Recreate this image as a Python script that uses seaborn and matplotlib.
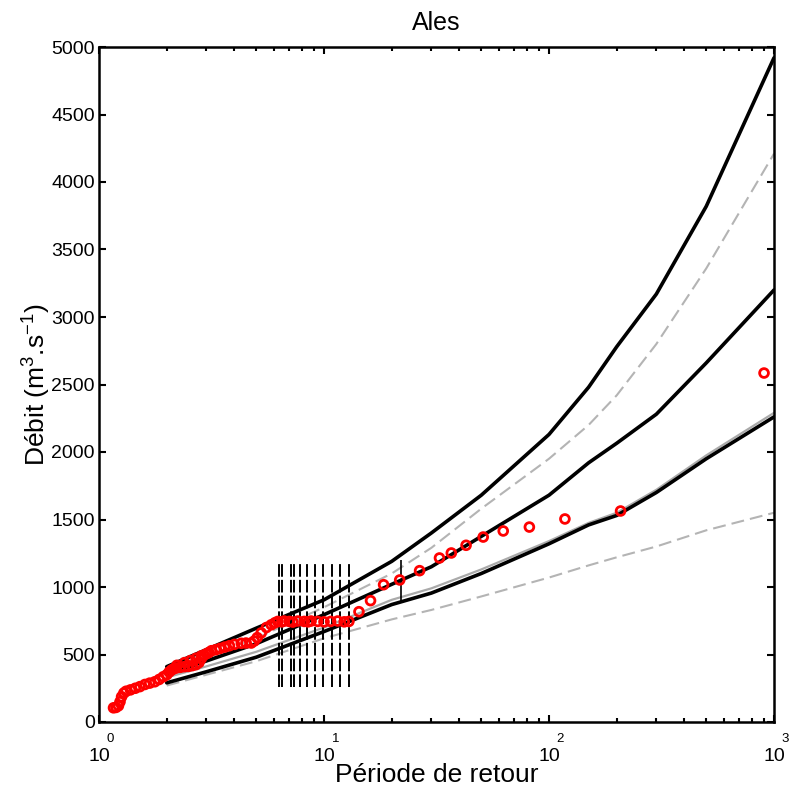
import matplotlib
matplotlib.use("Agg")
import matplotlib.pyplot as plt
import matplotlib.ticker as mticker
import seaborn as sns

# return periods where the fitted curves are read
T_GRID = [2, 3, 5, 10, 20, 30, 50, 100, 150, 200, 300, 500, 1000]
UPPER = [410, 536, 695, 905, 1190, 1400, 1680, 2130, 2480, 2780, 3170, 3820, 4920]
MIDDLE = [355, 452, 580, 795, 1020, 1150, 1375, 1680, 1920, 2065, 2280, 2660, 3200]
LOWER = [290, 372, 480, 670, 870, 955, 1100, 1320, 1460, 1530, 1700, 1950, 2260]
GRAY_FIT = [330, 412, 520, 700, 905, 990, 1130, 1340, 1475, 1550, 1720, 1975, 2290]
GRAY_UP = [380, 486, 620, 850, 1100, 1290, 1580, 1950, 2200, 2420, 2800, 3360, 4210]
GRAY_LOW = [270, 350, 450, 620, 760, 830, 930, 1070, 1160, 1220, 1300, 1420, 1550]

# observed floods (plotting positions)
OBS_T = [1.16, 1.19, 1.22, 1.24, 1.26, 1.29, 1.32, 1.38, 1.45, 1.52, 1.60, 1.68,
         1.77, 1.85, 1.93, 2.00, 2.05, 2.10, 2.15, 2.20, 2.22, 2.30, 2.40, 2.40,
         2.50, 2.55, 2.60, 2.70, 2.70, 2.78, 2.85, 2.85, 2.92, 3.00, 3.08, 3.16,
         3.30, 3.45, 3.62, 3.80, 4.00, 4.29, 4.50, 4.75, 4.90, 5.05, 5.26, 5.55,
         5.83, 6.05,
         6.23, 6.50, 6.65, 7.00, 7.27, 7.65, 8.17, 8.50, 8.76, 9.37, 10.0, 10.7,
         11.5, 12.3, 12.9,
         14.3, 16.1, 18.4, 21.7, 26.6, 32.6, 36.8, 42.8, 51.0, 62.6, 81.8, 117.7,
         208, 903]
OBS_Q = [105, 108, 120, 150, 187, 215, 228, 238, 250, 262, 278, 288,
         298, 315, 335, 350, 370, 385, 395, 400, 420, 405, 410, 440,
         412, 455, 418, 425, 472, 440, 470, 490, 495, 505, 515, 528,
         535, 545, 555, 565, 575, 583, 585, 585, 600, 625, 660, 700,
         720, 735,
         745, 742, 748, 745, 740, 748, 745, 742, 748, 745, 742, 745,
         748, 742, 745,
         817, 899, 1017, 1052, 1121, 1215, 1252, 1309, 1370, 1415, 1444, 1504,
         1563, 2585]

# uncertainty intervals of the censored / historical floods
INT_T = [6.3, 6.5, 7.14, 7.39, 7.85, 8.41, 9.12, 9.93, 10.8, 11.8, 12.9]
INT_LOW = [260] * len(INT_T)
INT_HIGH = [1190] * len(INT_T)
HIST_T = [21.9]
HIST_LOW = [890]
HIST_HIGH = [1200]

Y_TICKS = list(range(0, 5001, 500))
X_TICKS = [1, 10, 100, 1000]
X_EXPONENTS = ["0", "1", "2", "3"]

sns.set_theme(style="ticks")
plt.rcParams["font.family"] = ["Liberation Sans", "DejaVu Sans"]
plt.rcParams["mathtext.fontset"] = "custom"
plt.rcParams["mathtext.rm"] = "Liberation Sans"
plt.rcParams["mathtext.it"] = "Liberation Sans:italic"
plt.rcParams["text.color"] = "black"
plt.rcParams["axes.labelcolor"] = "black"

fig = plt.figure(figsize=(7.89, 7.87), dpi=100)
ax = fig.add_axes([99 / 789, 1 - 722 / 787, 675 / 789, 675 / 787])

gray = "#b4b4b4"
dashed = (0, (6.2, 2.9))
sns.lineplot(x=T_GRID, y=GRAY_UP, ax=ax, color=gray, lw=1.5, linestyle=dashed)
sns.lineplot(x=T_GRID, y=GRAY_LOW, ax=ax, color=gray, lw=1.5, linestyle=dashed)
sns.lineplot(x=T_GRID, y=GRAY_FIT, ax=ax, color="#aaaaaa", lw=1.6)
for curve in (UPPER, MIDDLE, LOWER):
    sns.lineplot(x=T_GRID, y=curve, ax=ax, color="black", lw=2.6)

ax.vlines(INT_T, INT_LOW, INT_HIGH, colors="black", lw=1.4,
          linestyles=[(0, (6.5, 1.6))])
ax.vlines(HIST_T, HIST_LOW, HIST_HIGH, colors="black", lw=1.2,
          linestyles=[(0, (14, 2))])

ax.scatter(OBS_T, OBS_Q, s=40, marker="o", facecolors="none",
           edgecolors="red", linewidths=2.0, zorder=5)

ax.set_xscale("log")
ax.set_xlim(1, 1000)
ax.set_ylim(0, 5000)
ax.set_yticks(Y_TICKS)
ax.set_yticklabels([str(v) for v in Y_TICKS])
ax.set_xticks(X_TICKS)
ax.set_xticklabels(["10"] * len(X_TICKS))
ax.xaxis.set_minor_locator(mticker.LogLocator(base=10, subs=range(2, 10)))
ax.xaxis.set_minor_formatter(mticker.NullFormatter())

# MATLAB-style exponents, raised above and to the right of each "10"
for t, e in zip(X_TICKS, X_EXPONENTS):
    ax.annotate(e, xy=(t, 0), xycoords=("data", "axes fraction"),
                xytext=(5.5, -12), textcoords="offset points",
                ha="left", va="center", fontsize=9.5, annotation_clip=False)

ax.tick_params(axis="both", which="both", direction="in", top=True,
               right=True, colors="black", labelcolor="black", width=1.5)
ax.tick_params(axis="y", which="major", length=5, labelsize=14, pad=3)
ax.tick_params(axis="x", which="major", length=5, labelsize=14, pad=19)
ax.tick_params(axis="x", which="minor", length=3)
for sp in ax.spines.values():
    sp.set_linewidth(1.8)
    sp.set_color("black")

ax.set_title("Ales", fontsize=18, pad=12, color="black")
ax.set_xlabel("Période de retour", fontsize=19)
ax.xaxis.set_label_coords(0.5, -0.061)
ax.set_ylabel(r"Débit (m$\mathregular{^3}$.s$\mathregular{^{-1}}$)",
              fontsize=19, labelpad=-1)

fig.savefig("out.png", dpi=100)
